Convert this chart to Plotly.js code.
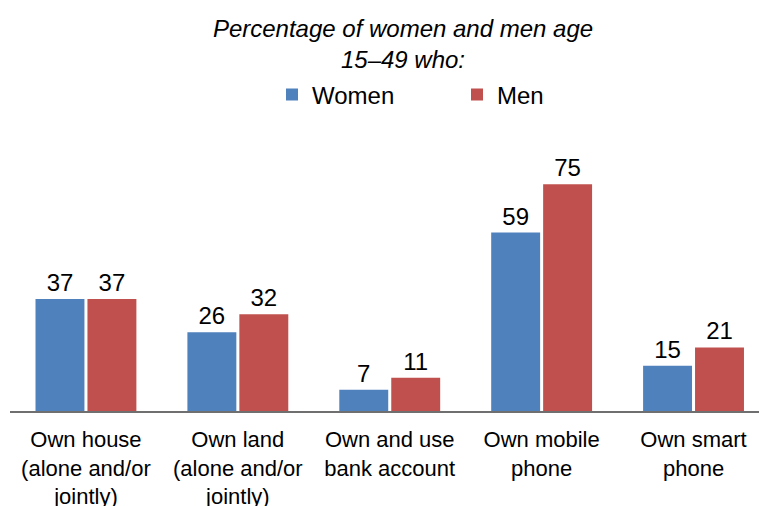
<!DOCTYPE html>
<html>
<head>
<meta charset="utf-8">
<script src="https://cdn.plot.ly/plotly-3.0.1.min.js"></script>
<style>html,body{margin:0;padding:0;background:#fff;}#chart{width:759px;height:506px;}</style>
</head>
<body>
<div id="chart"></div>
<script>
const categories = [
  "Own house<br>(alone and/or<br>jointly)",
  "Own land<br>(alone and/or<br>jointly)",
  "Own and use<br>bank account",
  "Own mobile<br>phone",
  "Own smart<br>phone"
];
const women = [37, 26, 7, 59, 15];
const men = [37, 32, 11, 75, 21];
const seriesNames = ["Women", "Men"];
const colors = ["#4F81BD", "#C0504D"];

const FONT = "Liberation Sans, Arial, sans-serif";

const traces = [women, men].map((vals, i) => ({
  type: "bar",
  name: seriesNames[i],
  x: categories,
  y: vals,
  text: vals.map(String),
  textposition: "outside",
  textfont: {family: FONT, size: 24, color: "#000"},
  cliponaxis: false,
  marker: {color: colors[i], line: {width: 0}},
  hoverinfo: "none"
}));

const layout = {
  width: 759,
  height: 506,
  margin: {l: 9.5, r: 0, t: 169, b: 95, pad: 0},
  paper_bgcolor: "#fff",
  plot_bgcolor: "#fff",
  font: {family: FONT, size: 22, color: "#000"},
  barmode: "group",
  bargap: 0.316,
  bargroupgap: 0.058,
  title: {
    text: "<i>Percentage of women and men age<br>15–49 who:</i>",
    font: {family: FONT, size: 24, color: "#000"},
    xref: "container",
    x: 403/759,
    xanchor: "center",
    yref: "container",
    y: 1 - 37/506,
    yanchor: "top"
  },
  showlegend: true,
  legend: {
    orientation: "h",
    xref: "container",
    x: 272/759,
    xanchor: "left",
    yref: "container",
    y: 1 - 95/506,
    yanchor: "middle",
    entrywidth: 140,
    entrywidthmode: "pixels",
    font: {family: FONT, size: 24, color: "#000"},
    bgcolor: "rgba(0,0,0,0)",
    borderwidth: 0
  },
  xaxis: {
    type: "category",
    range: [-0.5, 4.431],
    showline: true,
    linecolor: "#6f6f6f",
    linewidth: 1.5,
    ticks: "",
    ticklabelstandoff: 8,
    showgrid: false,
    zeroline: false,
    tickfont: {family: FONT, size: 22, color: "#000"},
    fixedrange: true
  },
  yaxis: {
    range: [0, 80],
    visible: false,
    showgrid: false,
    zeroline: false,
    fixedrange: true
  }
};

Plotly.newPlot("chart", traces, layout, {staticPlot: true, displayModeBar: false});
</script>
</body>
</html>
